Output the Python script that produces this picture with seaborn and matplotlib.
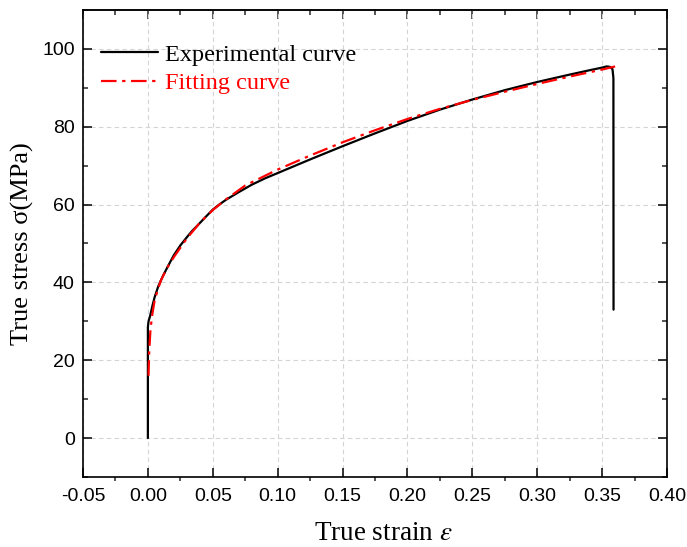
import matplotlib
matplotlib.use("Agg")
import matplotlib.pyplot as plt
from matplotlib.ticker import MultipleLocator, FormatStrFormatter
import seaborn as sns
import pandas as pd

# ---- data ----
exp_strain = [0.0, 0.0, 0.0005, 0.0018, 0.0035, 0.0052, 0.008, 0.0118, 0.016, 0.020,
              0.025, 0.030, 0.034, 0.037, 0.041, 0.045, 0.050, 0.055, 0.060, 0.070,
              0.080, 0.090, 0.100, 0.125, 0.150, 0.175, 0.200, 0.225, 0.250, 0.275,
              0.300, 0.325, 0.340, 0.350, 0.3534, 0.356, 0.358, 0.3587, 0.3588]
exp_stress = [0.0, 28.5, 30.0, 31.5, 34.0, 36.2, 39.0, 41.8, 44.5, 47.0,
              49.5, 51.6, 53.2, 54.2, 55.6, 57.0, 58.7, 60.0, 61.2, 63.2,
              65.1, 66.7, 68.1, 71.6, 75.0, 78.3, 81.5, 84.4, 87.0, 89.4,
              91.5, 93.4, 94.5, 95.2, 95.5, 95.4, 94.8, 92.5, 33.0]

fit_strain = [0.0005, 0.001, 0.002, 0.0035, 0.005, 0.0075, 0.01, 0.015, 0.02, 0.03,
              0.04, 0.05, 0.06, 0.075, 0.10, 0.125, 0.15, 0.175, 0.20, 0.225,
              0.25, 0.275, 0.30, 0.325, 0.35, 0.36]
fit_stress = [16.0, 22.0, 28.0, 32.0, 35.0, 38.0, 40.5, 43.8, 46.5, 51.3,
              55.3, 58.6, 61.3, 64.9, 69.0, 72.6, 76.0, 79.1, 82.0, 84.6,
              86.9, 89.0, 91.0, 92.9, 94.7, 95.5]

labels = ["Experimental curve", "Fitting curve"]

sns.set_theme(style="white")
plt.rcParams["font.family"] = ["Liberation Sans", "DejaVu Sans"]
plt.rcParams["mathtext.fontset"] = "stix"

fig = plt.figure(figsize=(6.87, 5.47), dpi=100)
ax = fig.add_axes([0.1208, 0.128, 0.8501, 0.8537])

df_exp = pd.DataFrame({"strain": exp_strain, "stress": exp_stress})
df_fit = pd.DataFrame({"strain": fit_strain, "stress": fit_stress})

sns.lineplot(data=df_exp, x="strain", y="stress", sort=False, estimator=None,
             color="black", linewidth=1.6, ax=ax, label=labels[0], zorder=3)
sns.lineplot(data=df_fit, x="strain", y="stress", sort=False, estimator=None,
             color="red", linewidth=1.6, ax=ax, label=labels[1], zorder=4,
             dashes=False)
ax.lines[1].set_dashes([7, 2.5, 1.5, 2.5])

ax.set_xlim(-0.05, 0.40)
ax.set_ylim(-10, 110)
ax.xaxis.set_major_locator(MultipleLocator(0.05))
ax.xaxis.set_minor_locator(MultipleLocator(0.025))
ax.xaxis.set_major_formatter(FormatStrFormatter("%.2f"))
ax.yaxis.set_major_locator(MultipleLocator(20))
ax.yaxis.set_minor_locator(MultipleLocator(10))

ax.grid(True, which="major", color="#d4d4d4", linestyle=(0, (4, 3)), linewidth=0.8)
ax.set_axisbelow(True)

for s in ax.spines.values():
    s.set_color("black")
    s.set_linewidth(1.2)

ax.tick_params(axis="x", which="major", direction="in", length=6.5, width=1.1,
               bottom=True, top=False, labelsize=14, pad=8, colors="black")
ax.tick_params(axis="x", which="minor", direction="out", length=3, width=1.1,
               bottom=True, top=False)
ax.tick_params(axis="y", which="major", direction="in", length=6.5, width=1.1,
               left=True, right=True, labelsize=14, pad=6, colors="black")
ax.tick_params(axis="y", which="minor", direction="in", length=3.5, width=1.1,
               left=True, right=True)

sec = ax.secondary_xaxis("top")
sec.xaxis.set_major_locator(MultipleLocator(0.05))
sec.xaxis.set_minor_locator(MultipleLocator(0.025))
sec.tick_params(axis="x", which="major", direction="in", length=6.5, width=1.1,
                labeltop=False)
sec.tick_params(axis="x", which="minor", direction="in", length=3.5, width=1.1)
sec.spines["top"].set_linewidth(1.2)

serif = ["Liberation Serif", "DejaVu Serif"]
ax.set_xlabel("True strain $\\varepsilon$", fontsize=19.5, family=serif, labelpad=8,
              color="black")
ax.xaxis.set_label_coords(0.515, -0.095)
ax.set_ylabel("True stress σ(MPa)", fontsize=19, family=serif, labelpad=6,
              color="black")

leg = ax.legend(loc="upper left", frameon=False, handlelength=2.35,
                handletextpad=0.25, labelspacing=0.28,
                bbox_to_anchor=(-0.006, 0.975),
                prop={"family": serif, "size": 17.5})
for txt, col in zip(leg.get_texts(), ["black", "red"]):
    txt.set_color(col)

fig.savefig("out.png", dpi=100)
